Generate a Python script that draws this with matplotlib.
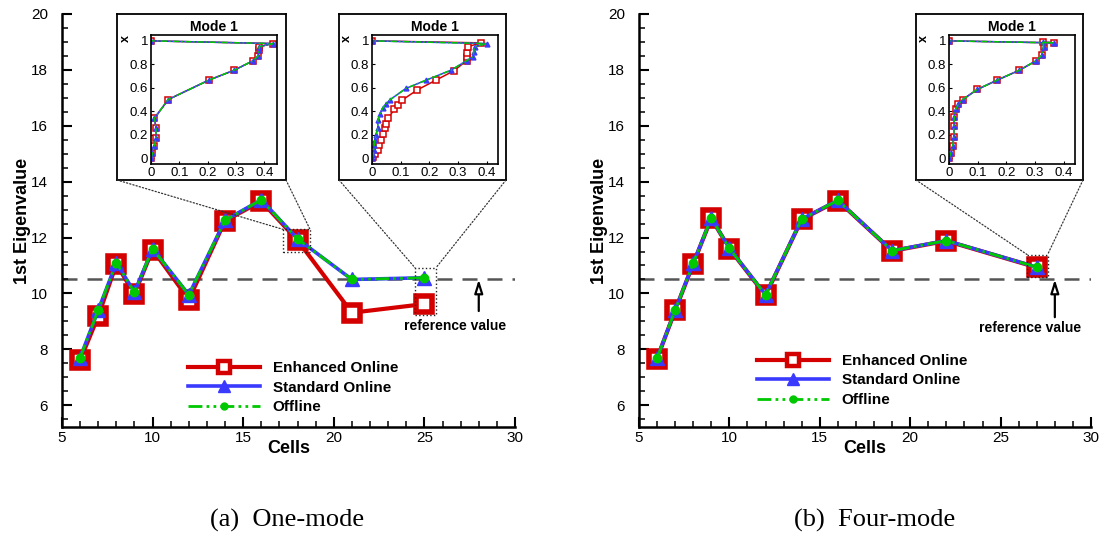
import numpy as np
import matplotlib
matplotlib.use('Agg')
import matplotlib.pyplot as plt
from matplotlib.lines import Line2D
from matplotlib.patches import Rectangle, ConnectionPatch
from matplotlib.ticker import MultipleLocator

plt.rcParams['font.family'] = ['Liberation Sans', 'DejaVu Sans']

# ---- main data ----
cells_a = [6, 7, 8, 9, 10, 12, 14, 16, 18, 21, 25]
enh_a = [7.61, 9.19, 11.05, 9.98, 11.57, 9.78, 12.60, 13.30, 11.90, 9.31, 9.62]
std_a = [7.70, 9.40, 11.10, 10.04, 11.60, 9.95, 12.62, 13.35, 11.95, 10.50, 10.56]
off_a = [7.70, 9.40, 11.10, 10.04, 11.60, 9.95, 12.62, 13.35, 11.95, 10.50, 10.56]

cells_b = [6, 7, 8, 9, 10, 12, 14, 16, 19, 22, 27]
enh_b = [7.67, 9.39, 11.06, 12.69, 11.60, 9.93, 12.65, 13.32, 11.52, 11.88, 10.93]
std_b = [7.68, 9.40, 11.08, 12.70, 11.61, 9.95, 12.66, 13.33, 11.53, 11.89, 10.94]
off_b = [7.68, 9.40, 11.08, 12.70, 11.61, 9.95, 12.66, 13.33, 11.53, 11.89, 10.94]

ref_value = 10.5

# ---- inset profiles (mode 1), position x vs value ----
ia_x = [0, 0.04, 0.10, 0.17, 0.255, 0.34, 0.50, 0.666, 0.75, 0.83, 0.87, 0.92, 0.95, 0.977, 1.0]
ia_v = [0, 0.005, 0.012, 0.017, 0.018, 0.012, 0.061, 0.205, 0.294, 0.36, 0.378, 0.382, 0.382, 0.43, 0.0]

ib_red_x = [0, 0.008, 0.037, 0.07, 0.113, 0.156, 0.207, 0.255, 0.29, 0.34, 0.416, 0.453, 0.496,
            0.58, 0.666, 0.745, 0.83, 0.865, 0.90, 0.95, 0.983, 1.0]
ib_red_v = [0, 0.005, 0.012, 0.02, 0.026, 0.031, 0.037, 0.047, 0.05, 0.056, 0.078, 0.09, 0.106,
            0.157, 0.224, 0.286, 0.33, 0.333, 0.333, 0.335, 0.38, 0.0]
ib_blue_x = [0, 0.03, 0.07, 0.11, 0.156, 0.2, 0.255, 0.326, 0.38, 0.425, 0.46, 0.5, 0.595, 0.666,
             0.75, 0.83, 0.864, 0.906, 0.95, 0.977, 1.0]
ib_blue_v = [0, 0.004, 0.006, 0.008, 0.01, 0.014, 0.02, 0.021, 0.028, 0.037, 0.048, 0.064, 0.119,
             0.19, 0.276, 0.33, 0.352, 0.355, 0.358, 0.40, 0.0]

ic_x = [0, 0.042, 0.10, 0.184, 0.27, 0.354, 0.416, 0.46, 0.50, 0.586, 0.666, 0.75, 0.83, 0.878,
        0.95, 0.99, 0.983, 1.0]
ic_v = [0, 0.006, 0.013, 0.017, 0.017, 0.019, 0.023, 0.033, 0.048, 0.099, 0.169, 0.246, 0.304,
        0.324, 0.33, 0.328, 0.367, 0.0]

RED = '#d40000'
BLUE = '#3a3aff'
GREEN = '#00c800'
GDASH = (0, (5, 1.5, 1, 1.5, 1, 1.5))

W, H = 1106, 538
fig = plt.figure(figsize=(W / 100, H / 100), dpi=100)


def fr(x0, y0, x1, y1):
    return [x0 / W, 1 - y1 / H, (x1 - x0) / W, (y1 - y0) / H]


def main_panel(rect, cells, enh, std, off, leg_xy, txt_xy):
    ax = fig.add_axes(fr(*rect))
    ax.axhline(ref_value, color='#555555', lw=1.8, ls=(0, (6, 4)), zorder=1)
    ax.plot(cells, enh, color=RED, lw=3, marker='s', ms=11, mew=4,
            mfc='white', mec=RED, zorder=3)
    ax.plot(cells, std, color=BLUE, lw=2.6, marker='^', ms=10, mew=1,
            mfc=BLUE, mec=BLUE, zorder=4)
    ax.plot(cells, off, color=GREEN, lw=2, ls=GDASH, marker='o', ms=6,
            mfc=GREEN, mec=GREEN, zorder=5)
    ax.set_xlim(5, 30)
    ax.set_ylim(5.22, 20)
    ax.xaxis.set_major_locator(MultipleLocator(5))
    ax.xaxis.set_minor_locator(MultipleLocator(1))
    ax.yaxis.set_minor_locator(MultipleLocator(0.5))
    ax.set_yticks([6, 8, 10, 12, 14, 16, 18, 20])
    for s in ['top', 'right']:
        ax.spines[s].set_visible(False)
    for s in ['left', 'bottom']:
        ax.spines[s].set_linewidth(1.8)
    ax.tick_params(which='major', direction='in', length=7, width=1.5, labelsize=11)
    ax.tick_params(which='minor', direction='in', length=4, width=1.1)
    ax.tick_params(axis='y', which='major', pad=10)
    ax.tick_params(axis='x', which='major', pad=3)
    ax.set_xlabel('Cells', fontsize=13, fontweight='bold', labelpad=-4)
    ax.set_ylabel('1st Eigenvalue', fontsize=13, fontweight='bold', labelpad=0)
    ax.patch.set_alpha(0)

    # reference value arrow
    ax.annotate('', xy=(28, ref_value), xytext=(28, txt_xy[2]),
                arrowprops=dict(arrowstyle='-|>,head_length=0.8,head_width=0.25',
                                fc='white', ec='black', lw=1.6, shrinkA=0, shrinkB=0))
    ax.text(txt_xy[0], txt_xy[1], 'reference value', fontsize=10, fontweight='bold',
            ha='center', va='center')

    handles = [
        Line2D([], [], color=RED, lw=3, marker='s', ms=9, mew=3.2, mfc='white', mec=RED),
        Line2D([], [], color=BLUE, lw=2.6, marker='^', ms=9, mfc=BLUE, mec=BLUE),
        Line2D([], [], color=GREEN, lw=2, ls=GDASH, marker='o', ms=5, mfc=GREEN, mec=GREEN),
    ]
    fig.legend(handles, ['Enhanced Online', 'Standard Online', 'Offline'],
               loc='upper left', bbox_to_anchor=(leg_xy[0] / W, 1 - leg_xy[1] / H),
               frameon=False, borderpad=0, borderaxespad=0, handlelength=4.7,
               handletextpad=0.85, labelspacing=0.36,
               prop={'size': 11, 'weight': 'bold'})
    return ax


def inset(frame, inner, curves, xmax):
    fa = fig.add_axes(fr(*frame))
    fa.set_xticks([])
    fa.set_yticks([])
    fa.set_facecolor('white')
    for s in fa.spines.values():
        s.set_linewidth(1.3)
    ia = fig.add_axes(fr(*inner))
    for xs, vs, col, mk, ls in curves:
        if mk == 's':
            ia.plot(vs, xs, color=col, lw=1.1, marker='s', ms=4, mew=1.1,
                    mfc='white', mec=col)
        elif mk == '^':
            ia.plot(vs, xs, color=col, lw=1.1, marker='^', ms=3.5, mfc=col, mec=col)
        else:
            ia.plot(vs, xs, color=col, lw=1.1, ls=ls)
    ia.set_xlim(0, xmax)
    ia.set_ylim(-0.05, 1.05)
    ia.set_xticks([0, 0.1, 0.2, 0.3, 0.4])
    ia.set_xticklabels(['0', '0.1', '0.2', '0.3', '0.4'])
    ia.set_yticks([0, 0.2, 0.4, 0.6, 0.8, 1.0])
    ia.set_yticklabels(['0', '0.2', '0.4', '0.6', '0.8', '1'])
    ia.tick_params(direction='in', length=2, width=0.8, labelsize=9.5, pad=2)
    for s in ia.spines.values():
        s.set_linewidth(1.2)
    ia.set_title('Mode 1', fontsize=10, fontweight='bold', pad=3)
    ia.text(-0.2, 0.97, 'x', transform=ia.transAxes, fontsize=9, fontweight='bold',
            rotation=90, ha='center', va='center')
    return fa


def connect(fa, ax, box):
    x0, y0, x1, y1 = box
    ax.add_patch(Rectangle((x0, y0), x1 - x0, y1 - y0, fill=False, ls=':', lw=1,
                           ec='#222222', zorder=6))
    for (fx, fy), (bx, by) in [((0, 0), (x0, y1)), ((1, 0), (x1, y1))]:
        cp = ConnectionPatch(xyA=(fx, fy), coordsA=fa.transAxes, xyB=(bx, by),
                             coordsB=ax.transData, ls=':', lw=0.9, color='#333333')
        fig.add_artist(cp)


ax1 = main_panel((62, 14, 515, 427), cells_a, enh_a, std_a, off_a,
                 (188, 361), (26.7, 8.83, 9.37))
ax2 = main_panel((639, 14, 1091, 427), cells_b, enh_b, std_b, off_b,
                 (757, 354), (26.65, 8.77, 9.15))

f1 = inset((117, 14, 286, 180), (151, 35, 277, 164),
           [(ia_x, ia_v, RED, 's', '-'), (ia_x, ia_v, BLUE, '^', '-'),
            (ia_x, ia_v, GREEN, '', (0, (4, 1.5, 1, 1.5)))], 0.445)
f2 = inset((339, 14, 506, 180), (372, 35, 498, 164),
           [(ib_red_x, ib_red_v, RED, 's', '-'), (ib_blue_x, ib_blue_v, BLUE, '^', '-'),
            (ib_blue_x, ib_blue_v, GREEN, '', (0, (4, 1.5, 1, 1.5)))], 0.44)
f3 = inset((916, 14, 1083, 180), (949, 35, 1075, 164),
           [(ic_x, ic_v, RED, 's', '-'), (ic_x, ic_v, BLUE, '^', '-'),
            (ic_x, ic_v, GREEN, '', (0, (4, 1.5, 1, 1.5)))], 0.44)

connect(f1, ax1, (17.21, 11.49, 18.69, 12.29))
connect(f2, ax1, (24.48, 9.22, 25.64, 10.92))
connect(f3, ax2, (26.47, 10.59, 27.6, 11.39))

fig.text(287 / W, 1 - 520 / H, '(a)  One-mode', fontsize=19, family='Liberation Serif',
         ha='center', va='center')
fig.text(875 / W, 1 - 520 / H, '(b)  Four-mode', fontsize=19, family='Liberation Serif',
         ha='center', va='center')

fig.savefig('out.png', dpi=100)
